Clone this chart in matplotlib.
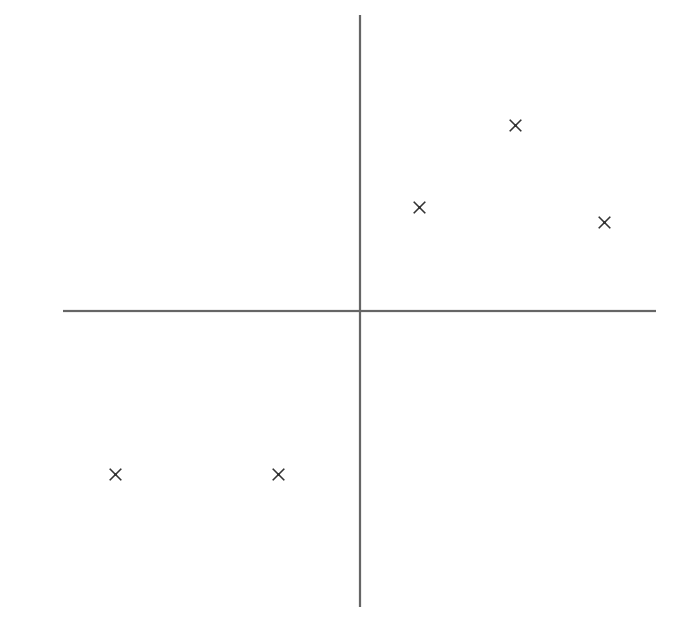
import matplotlib
matplotlib.use("Agg")
import matplotlib.pyplot as plt

# point coordinates
xs = [-8.25, -2.75, 2.0, 5.25, 8.25]
ys = [-5.5, -5.5, 3.5, 6.3, 3.0]

fig = plt.figure(figsize=(6.96, 6.2), dpi=100)
ax = fig.add_axes([63 / 696, 13 / 620, 593 / 696, 592 / 620])
ax.set_xlim(-10, 10)
ax.set_ylim(-10, 10)
ax.axis('off')

ax.axhline(0, color='#666666', lw=1.6)
ax.axvline(0, color='#666666', lw=1.6)
ax.scatter(xs, ys, marker='x', s=70, color='#333333', linewidths=1.1)

fig.savefig("out.png", dpi=100)
